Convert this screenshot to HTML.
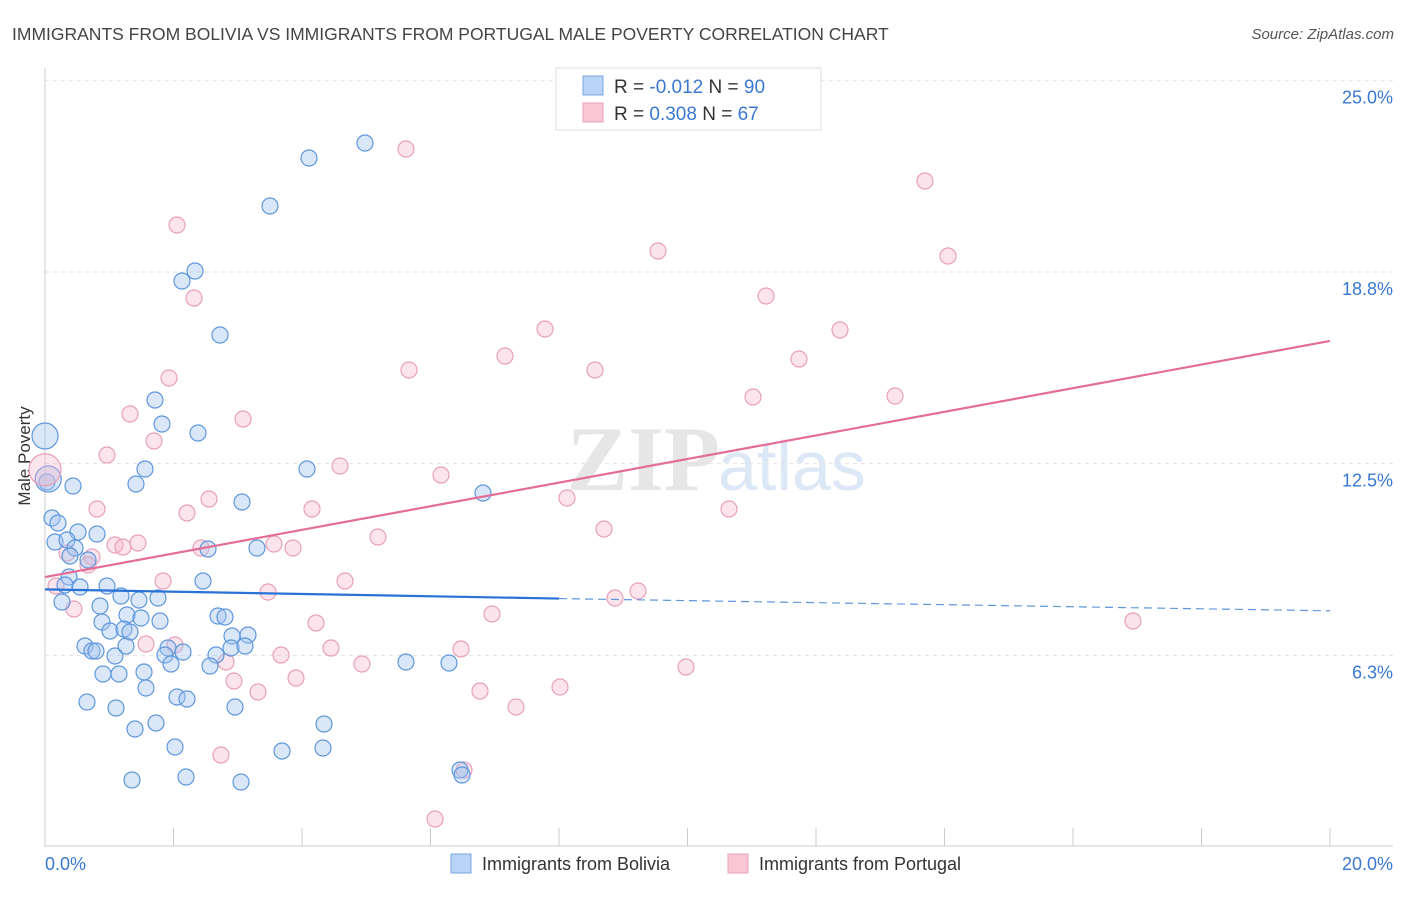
<!DOCTYPE html>
<html><head><meta charset="utf-8"><style>
body{margin:0;background:#fff;font-family:"Liberation Sans",sans-serif;}
</style></head><body>
<svg width="1406" height="892" xmlns="http://www.w3.org/2000/svg" id="svg">
<text x="12" y="40" font-size="17.5" fill="#444">IMMIGRANTS FROM BOLIVIA VS IMMIGRANTS FROM PORTUGAL MALE POVERTY CORRELATION CHART</text>
<text x="1394" y="39" font-size="15" fill="#555" font-style="italic" text-anchor="end">Source: ZipAtlas.com</text>
<text x="30" y="456" font-size="17" fill="#333" transform="rotate(-90 30 456)" text-anchor="middle">Male Poverty</text>
<text x="720" y="490" font-size="92" fill="#e6e6e6" text-anchor="end" font-family="Liberation Serif" font-weight="bold">ZIP</text>
<text x="718" y="490" font-size="70" fill="#dce8f6">atlas</text>
<g id="grid"></g><g id="pts"></g><g id="lines"></g>
<g>
<rect x="556" y="68" width="265" height="62" fill="#fff" stroke="#ddd"/>
<rect x="583" y="76" width="20" height="19" fill="#b9d2f5" stroke="#7aa6e2"/>
<rect x="583" y="103" width="20" height="19" fill="#f9c6d6" stroke="#eba2ba"/>
<text x="614" y="93" font-size="19" fill="#333">R = <tspan fill="#3a78d0">-0.012</tspan>   N = <tspan fill="#3a78d0">90</tspan></text>
<text x="614" y="120" font-size="19" fill="#333">R =  <tspan fill="#3a78d0">0.308</tspan>   N =  <tspan fill="#3a78d0">67</tspan></text>
</g>
<g>
<rect x="451" y="854" width="20" height="19" fill="#b9d2f5" stroke="#7aa6e2"/>
<text x="482" y="870" font-size="18" fill="#333">Immigrants from Bolivia</text>
<rect x="728" y="854" width="20" height="19" fill="#f9c6d6" stroke="#eba2ba"/>
<text x="759" y="870" font-size="18" fill="#333">Immigrants from Portugal</text>
</g>
<text x="45" y="870" font-size="18" fill="#3a78d0">0.0%</text>
<text x="1393" y="870" font-size="18" fill="#3a78d0" text-anchor="end">20.0%</text>
</svg>
<script>
const yTicks=[25.0,18.8,12.5,6.3];
const yTickVals=[25,18.75,12.5,6.25];
const blue=[[365,143],[309,158],[270,206],[195,271],[182,281],[220,335],[155,400],[162,424],[198,433],[307,469],[145,469],[136,484],[73,486],[242,502],[483,493],[47,482],[52,518],[58,523],[78,532],[97,534],[55,542],[67,540],[75,548],[70,556],[88,560],[208,549],[257,548],[69,577],[65,585],[80,587],[107,586],[203,581],[62,602],[100,606],[121,596],[139,600],[158,598],[127,615],[141,618],[160,621],[102,622],[110,631],[124,629],[130,632],[218,616],[225,617],[248,635],[232,636],[85,646],[92,651],[96,651],[115,656],[126,646],[168,648],[165,655],[183,652],[216,655],[231,648],[245,646],[144,672],[103,674],[119,674],[171,664],[210,666],[406,662],[449,663],[146,688],[87,702],[116,708],[177,697],[187,699],[235,707],[156,723],[135,729],[324,724],[175,747],[282,751],[323,748],[460,770],[462,775],[132,780],[186,777],[241,782]].map(p=>[(p[0]-45)/64.25,(847-p[1])/30.67]);
const pink=[[805,108],[406,149],[925,181],[177,225],[658,251],[948,256],[766,296],[194,298],[545,329],[840,330],[505,356],[799,359],[409,370],[595,370],[169,378],[753,397],[895,396],[130,414],[243,419],[154,441],[107,455],[340,466],[441,475],[567,498],[209,499],[187,513],[312,509],[97,509],[729,509],[604,529],[378,537],[115,545],[123,547],[138,543],[201,548],[274,544],[293,548],[67,553],[92,557],[88,565],[163,581],[345,581],[56,586],[268,592],[615,598],[638,591],[74,609],[492,614],[316,623],[146,644],[175,645],[331,648],[461,649],[281,655],[226,662],[362,664],[686,667],[234,681],[296,678],[258,692],[480,691],[560,687],[516,707],[1133,621],[221,755],[464,770],[435,819]].map(p=>[(p[0]-45)/64.25,(847-p[1])/30.67]);
const blueBig=[[0,13.4],[0.05,12.0]];
const pinkBig=[[0,12.3]];
const blueTrend=[[0,8.4],[8,8.1],[20,7.7]];
const pinkTrend=[[0,8.8],[20,16.5]];
const X=v=>45+v*64.25, Y=v=>847-v*30.67;
const NS="http://www.w3.org/2000/svg";
function mk(t,a,p){const e=document.createElementNS(NS,t);for(const k in a)e.setAttribute(k,a[k]);document.getElementById(p).appendChild(e);return e;}
yTickVals.forEach((v,i)=>{
 const l=mk('line',{x1:45,x2:1393,y1:Y(v),y2:Y(v),stroke:'#e2e2e2','stroke-dasharray':'4 4'},'grid');
 
 
 const t=mk('text',{x:1393,y:Y(v)+23,'font-size':18,fill:'#3a78d0','text-anchor':'end'},'grid');
 t.textContent=yTicks[i].toFixed(1)+'%';
 
 
});
const ax=mk('line',{x1:45,x2:45,y1:68,y2:847,stroke:'#ccc'},'grid');


const bx=mk('line',{x1:45,x2:1393,y1:846,y2:846,stroke:'#ccc'},'grid');


for(let i=0;i<=10;i++){const t=mk('line',{x1:X(i*2),x2:X(i*2),y1:828,y2:846,stroke:'#ccc'},'grid');
 
 }
function dots(arr,r,fill,stroke,name){arr.forEach(p=>{const c=mk('circle',{cx:X(p[0]),cy:Y(p[1]),r:r,fill:fill,stroke:stroke,'stroke-width':1.2},'pts');
 
 });}
dots(pink,8,'rgba(246,178,200,0.35)','#e8a0b8','portugal-point');
dots(blue,8,'rgba(160,195,240,0.4)','#5f97dc','bolivia-point');
dots(blueBig,13,'rgba(160,195,240,0.4)','#5f97dc','bolivia-point');
dots(pinkBig,16,'rgba(246,178,200,0.35)','#e8a0b8','portugal-point');
const b1=mk('line',{x1:X(blueTrend[0][0]),y1:Y(blueTrend[0][1]),x2:X(blueTrend[1][0]),y2:Y(blueTrend[1][1]),stroke:'#2a72d6','stroke-width':2.2},'lines');


const b2=mk('line',{x1:X(blueTrend[1][0]),y1:Y(blueTrend[1][1]),x2:X(blueTrend[2][0]),y2:Y(blueTrend[2][1]),stroke:'#5f97dc','stroke-width':1.2,'stroke-dasharray':'8 5'},'lines');


const p1=mk('line',{x1:X(pinkTrend[0][0]),y1:Y(pinkTrend[0][1]),x2:X(pinkTrend[1][0]),y2:Y(pinkTrend[1][1]),stroke:'#e46d98','stroke-width':2.2},'lines');


</script>
</body></html>
